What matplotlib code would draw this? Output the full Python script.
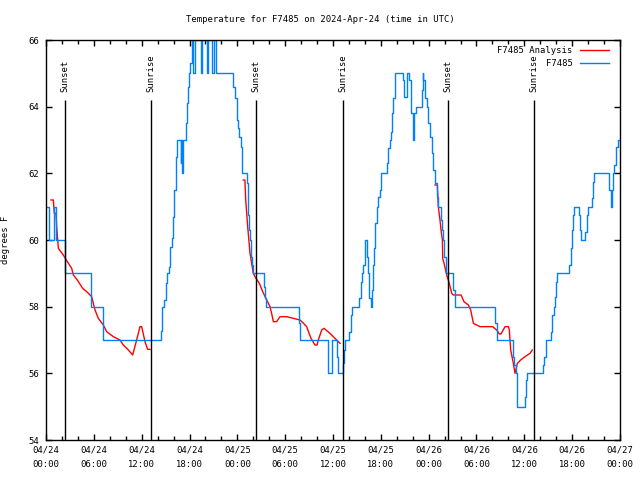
import numpy as np
import matplotlib
matplotlib.use('Agg')
import matplotlib.pyplot as plt
from matplotlib.ticker import MultipleLocator

# hours since 2024-04-24 00:00 UTC
obs_hours = [0.0, 0.35, 1.05, 1.3, 2.38, 5.6, 7.1, 14.38, 14.59, 14.8, 15.01, 15.22,
             15.43, 15.55, 15.76, 15.97, 16.1, 16.26, 16.39, 16.89, 16.95, 17.05, 17.14,
             17.52, 17.64, 17.77, 17.89, 18.06, 18.27, 18.48, 18.69, 19.4, 19.61, 20.15,
             20.36, 20.78, 21.07, 21.32, 23.5, 23.65, 23.92, 24.0, 24.13, 24.25, 24.42,
             24.55, 24.63, 25.17, 25.3, 25.38, 25.5, 25.59, 25.71, 25.84, 25.92, 27.39,
             27.5, 27.6, 31.78, 31.86, 35.4, 35.83, 36.46, 36.67, 37.21, 37.38, 37.51,
             38.05, 38.22, 38.34, 39.3, 39.47, 39.6, 39.81, 39.97, 40.06, 40.22, 40.39,
             40.56, 40.73, 40.85, 40.98, 41.14, 41.31, 41.48, 41.69, 41.9, 42.02, 42.82,
             42.94, 43.15, 43.28, 43.44, 43.57, 43.74, 44.82, 44.95, 45.24, 45.33, 45.58,
             45.74, 45.99, 46.16, 46.41, 47.12, 47.25, 47.33, 47.54, 47.75, 47.96, 48.17,
             48.38, 48.58, 48.79, 49.0, 49.2, 49.55, 49.7, 49.84, 49.95, 50.14, 51.09, 51.3,
             56.33, 56.53, 58.54, 58.75, 58.96, 59.13, 60.09, 60.2, 60.38, 62.39, 62.51,
             62.68, 63.39, 63.52, 63.68, 63.85, 63.98, 64.14, 65.65, 65.82, 65.94, 66.07,
             66.19, 66.86, 67.03, 67.15, 67.65, 67.82, 67.95, 68.45, 68.58, 68.7, 70.67,
             70.83, 71.0, 71.17, 71.29, 71.46, 71.7, 72.0]
obs_temp = [61.0, 60.0, 61.0, 60.0, 59.0, 58.0, 57.0, 57.27, 58.0, 58.2, 58.7, 59.0,
            59.2, 59.8, 60.07, 60.7, 61.5, 62.5, 63.0, 62.3, 63.0, 62.0, 63.0,
            63.5, 64.1, 64.6, 65.0, 65.3, 66.0, 65.0, 66.0, 65.0, 66.0, 65.0,
            66.0, 65.0, 66.0, 65.0, 64.6, 64.25, 63.85, 63.6, 63.35, 63.1, 62.8,
            62.5, 62.0, 61.7, 61.3, 60.75, 60.3, 60.0, 59.5, 59.25, 59.0, 58.6,
            58.25, 58.0, 57.5, 57.0, 56.0, 57.0, 56.5, 56.0, 56.3, 56.7, 57.0,
            57.25, 57.75, 58.0, 58.25, 58.75, 59.0, 59.25, 59.75, 60.0, 59.5, 59.0,
            58.25, 58.0, 58.5, 59.25, 59.75, 60.5, 61.0, 61.3, 61.5, 62.0, 62.3,
            62.75, 63.0, 63.25, 63.8, 64.25, 65.0, 64.8, 64.3, 64.8, 65.0, 64.8,
            63.8, 63.0, 63.8, 64.0, 64.5, 65.0, 64.8, 64.25, 64.0, 63.5, 63.1,
            62.6, 62.1, 61.7, 61.3, 61.0, 60.6, 60.3, 60.0, 59.5, 59.0, 58.5, 58.0,
            57.5, 57.0, 56.5, 56.25, 56.0, 55.0, 55.3, 55.8, 56.0, 56.25, 56.5,
            57.0, 57.25, 57.75, 58.0, 58.3, 58.75, 59.0, 59.25, 59.75, 60.3, 60.75,
            61.0, 60.75, 60.3, 60.0, 60.25, 60.75, 61.0, 61.25, 61.75, 62.0, 61.5,
            61.0, 61.5, 62.0, 62.25, 62.8, 63.0, 63.0]

# analysis curve, three pieces (one per night)
ana1_hours = [0.63, 0.92, 1.04, 1.25, 1.34, 1.55, 2.17, 2.68, 3.22, 3.43, 3.93, 4.6, 5.1,
              5.73, 6.15, 6.56, 7.19, 7.61, 8.45, 9.28, 9.7, 10.33, 10.87, 11.37, 11.79,
              12.0, 12.42, 12.75, 13.04]
ana1_temp = [61.2, 61.2, 60.8, 60.8, 60.4, 59.75, 59.55, 59.35, 59.15, 58.95, 58.8, 58.55,
             58.45, 58.3, 57.9, 57.65, 57.45, 57.25, 57.1, 57.0, 56.85, 56.7, 56.55, 57.0,
             57.4, 57.4, 56.95, 56.72, 56.72]
ana2_hours = [24.75, 24.95, 25.05, 25.3, 25.59, 25.8, 26.0, 26.34, 26.76, 27.18, 27.68,
              28.1, 28.3, 28.52, 28.93, 29.35, 30.19, 31.03, 31.86, 32.3, 32.7, 33.0,
              33.24, 33.74, 34.0, 34.16, 34.58, 34.87, 35.62, 36.25, 36.88]
ana2_temp = [61.8, 61.8, 61.2, 60.4, 59.6, 59.3, 59.0, 58.85, 58.7, 58.45, 58.2, 58.0,
             57.8, 57.55, 57.55, 57.7, 57.7, 57.65, 57.6, 57.5, 57.4, 57.2, 57.05, 56.85,
             56.85, 57.0, 57.3, 57.35, 57.2, 57.05, 56.9]
ana3_hours = [48.8, 49.09, 49.21, 49.42, 49.55, 49.72, 49.76, 49.93, 50.26, 50.59, 50.89,
              51.09, 52.06, 52.43, 52.98, 53.27, 53.61, 54.02, 54.44, 56.03, 56.53, 56.87,
              57.07, 57.58, 58.0, 58.12, 58.29, 58.62, 58.83, 59.13, 59.54, 60.08, 60.71,
              61.0]
ana3_temp = [61.65, 61.65, 61.0, 60.6, 60.3, 60.0, 59.45, 59.3, 58.95, 58.7, 58.4, 58.35,
             58.35, 58.15, 58.05, 57.9, 57.5, 57.45, 57.4, 57.4, 57.3, 57.18, 57.18, 57.4,
             57.4, 57.3, 56.7, 56.3, 56.0, 56.3, 56.4, 56.5, 56.6, 56.7]

sunset_hours = [2.4, 26.35, 50.45]
sunrise_hours = [13.2, 37.3, 61.25]

tick_hours = [0, 6, 12, 18, 24, 30, 36, 42, 48, 54, 60, 66, 72]
tick_labels = ['04/24\n00:00', '04/24\n06:00', '04/24\n12:00', '04/24\n18:00',
               '04/25\n00:00', '04/25\n06:00', '04/25\n12:00', '04/25\n18:00',
               '04/26\n00:00', '04/26\n06:00', '04/26\n12:00', '04/26\n18:00',
               '04/27\n00:00']

plt.rcParams['font.family'] = 'DejaVu Sans Mono'
fs = 6.4

fig = plt.figure(figsize=(6.4, 4.8), dpi=100)
ax = fig.add_axes([46/640, 40/480, 574/640, 400/480])

red = '#ff0000'
blue = '#0080ff'

ax.plot(ana1_hours, ana1_temp, color=red, lw=1.0, label='F7485 Analysis')
ax.plot(ana2_hours, ana2_temp, color=red, lw=1.0)
ax.plot(ana3_hours, ana3_temp, color=red, lw=1.0)
ax.plot(obs_hours, obs_temp, color=blue, lw=1.0, drawstyle='steps-post', label='F7485')

for h in sunset_hours:
    ax.vlines(h, 54, 64.2, color='black', lw=1.0)
    ax.text(h, 64.45, 'Sunset', rotation=90, ha='center', va='bottom', fontsize=fs)
for h in sunrise_hours:
    ax.vlines(h, 54, 64.2, color='black', lw=1.0)
    ax.text(h, 64.45, 'Sunrise', rotation=90, ha='center', va='bottom', fontsize=fs)

ax.set_xlim(0, 72)
ax.set_ylim(54, 66)
ax.set_xticks(tick_hours)
ax.set_xticklabels(tick_labels, fontsize=fs, linespacing=1.75)
ax.xaxis.set_minor_locator(MultipleLocator(2))
ax.set_yticks(np.arange(54, 67, 2))
ax.tick_params(axis='y', labelsize=fs, pad=5)
ax.tick_params(axis='x', pad=4)
ax.tick_params(which='both', direction='in', top=True, right=True, width=1.0)
ax.tick_params(which='major', length=4)
ax.tick_params(which='minor', length=3)
for s in ax.spines.values():
    s.set_linewidth(1.0)

ax.set_ylabel('degrees F', fontsize=fs)
ax.yaxis.set_label_coords(-0.062, 0.5)

fig.text(0.5, 1 - 19/480, 'Temperature for F7485 on 2024-Apr-24 (time in UTC)',
         ha='center', va='center', fontsize=fs)

ax.legend(loc='upper right', bbox_to_anchor=(1 - 11/574, 1 - 6/400), frameon=False,
          markerfirst=False, fontsize=fs, handlelength=3.3, handletextpad=0.8,
          labelspacing=0.45, borderaxespad=0, borderpad=0)

fig.savefig('out.png', dpi=100)
